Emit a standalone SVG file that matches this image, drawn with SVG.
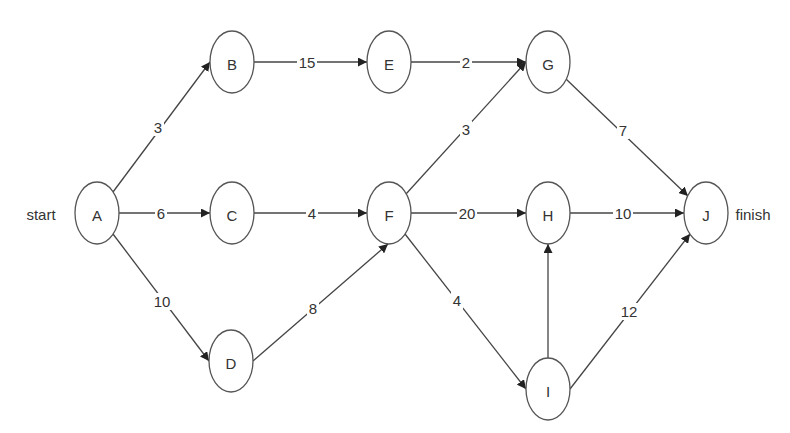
<svg xmlns="http://www.w3.org/2000/svg" width="790" height="433" viewBox="0 0 790 433">
<style>
.n ellipse{fill:#fff;stroke:#555;stroke-width:1.3}
.n text,.t{font-family:"Liberation Sans",Arial,sans-serif;font-size:15px;fill:#333;text-anchor:middle;dominant-baseline:central}
.e line{stroke:#444;stroke-width:1.3;marker-end:url(#ah)}
.lb rect{fill:#fff}
.lb text{font-family:"Liberation Sans",Arial,sans-serif;font-size:15px;fill:#333;text-anchor:middle;dominant-baseline:central}
</style>
<defs>
<marker id="ah" viewBox="0 0 10 10" refX="10" refY="5" markerWidth="9" markerHeight="9" markerUnits="userSpaceOnUse" orient="auto">
<path d="M0,0 L10,5 L0,10 z" fill="#222"/>
</marker>
</defs>
<rect width="790" height="433" fill="#fff"/>
<g id="connectors" class="e">
<line x1="113" y1="192" x2="210" y2="62"/>
<line x1="119" y1="213" x2="210" y2="213"/>
<line x1="113" y1="234" x2="209" y2="361"/>
<line x1="254" y1="62" x2="367" y2="62"/>
<line x1="254" y1="213" x2="367" y2="213"/>
<line x1="253" y1="361" x2="388" y2="244"/>
<line x1="411" y1="62" x2="526" y2="62"/>
<line x1="406" y1="194" x2="526" y2="62"/>
<line x1="411" y1="213" x2="526" y2="213"/>
<line x1="405" y1="234" x2="526" y2="389"/>
<line x1="566" y1="79" x2="688" y2="196"/>
<line x1="570" y1="213" x2="684" y2="213"/>
<line x1="548" y1="358" x2="548" y2="244"/>
<line x1="570" y1="389" x2="690" y2="234"/>
</g>
<g id="labels" class="lb">
<rect x="152" y="119" width="12" height="17"/><text x="158" y="127">3</text>
<rect x="155" y="205" width="12" height="17"/><text x="161" y="213">6</text>
<rect x="152" y="293" width="20" height="17"/><text x="162" y="301">10</text>
<rect x="297" y="54" width="20" height="17"/><text x="307" y="62">15</text>
<rect x="306" y="205" width="12" height="17"/><text x="312" y="213">4</text>
<rect x="307" y="300" width="12" height="17"/><text x="313" y="308">8</text>
<rect x="460" y="54" width="12" height="17"/><text x="466" y="62">2</text>
<rect x="460" y="121" width="12" height="17"/><text x="466" y="129">3</text>
<rect x="457" y="205" width="20" height="17"/><text x="467" y="213">20</text>
<rect x="451" y="292" width="12" height="17"/><text x="457" y="300">4</text>
<rect x="613" y="205" width="20" height="17"/><text x="623" y="213">10</text>
<rect x="617" y="122" width="12" height="17"/><text x="623" y="130">7</text>
<rect x="619" y="303" width="20" height="17"/><text x="629" y="311">12</text>
</g>
<text class="t" x="41" y="214">start</text>
<text class="t" x="753" y="214">finish</text>
<g id="A" class="n"><ellipse cx="97" cy="213" rx="22" ry="31"/><text x="97" y="215">A</text></g>
<g id="B" class="n"><ellipse cx="232" cy="62" rx="22" ry="31"/><text x="232" y="64">B</text></g>
<g id="C" class="n"><ellipse cx="232" cy="213" rx="22" ry="31"/><text x="232" y="215">C</text></g>
<g id="D" class="n"><ellipse cx="231" cy="361" rx="22" ry="31"/><text x="231" y="363">D</text></g>
<g id="E" class="n"><ellipse cx="389" cy="62" rx="22" ry="31"/><text x="389" y="64">E</text></g>
<g id="F" class="n"><ellipse cx="389" cy="213" rx="22" ry="31"/><text x="389" y="215">F</text></g>
<g id="G" class="n"><ellipse cx="548" cy="62" rx="22" ry="31"/><text x="548" y="64">G</text></g>
<g id="H" class="n"><ellipse cx="548" cy="213" rx="22" ry="31"/><text x="548" y="215">H</text></g>
<g id="I" class="n"><ellipse cx="548" cy="389" rx="22" ry="31"/><text x="548" y="391">I</text></g>
<g id="J" class="n"><ellipse cx="706" cy="213" rx="22" ry="31"/><text x="706" y="215">J</text></g>
</svg>
